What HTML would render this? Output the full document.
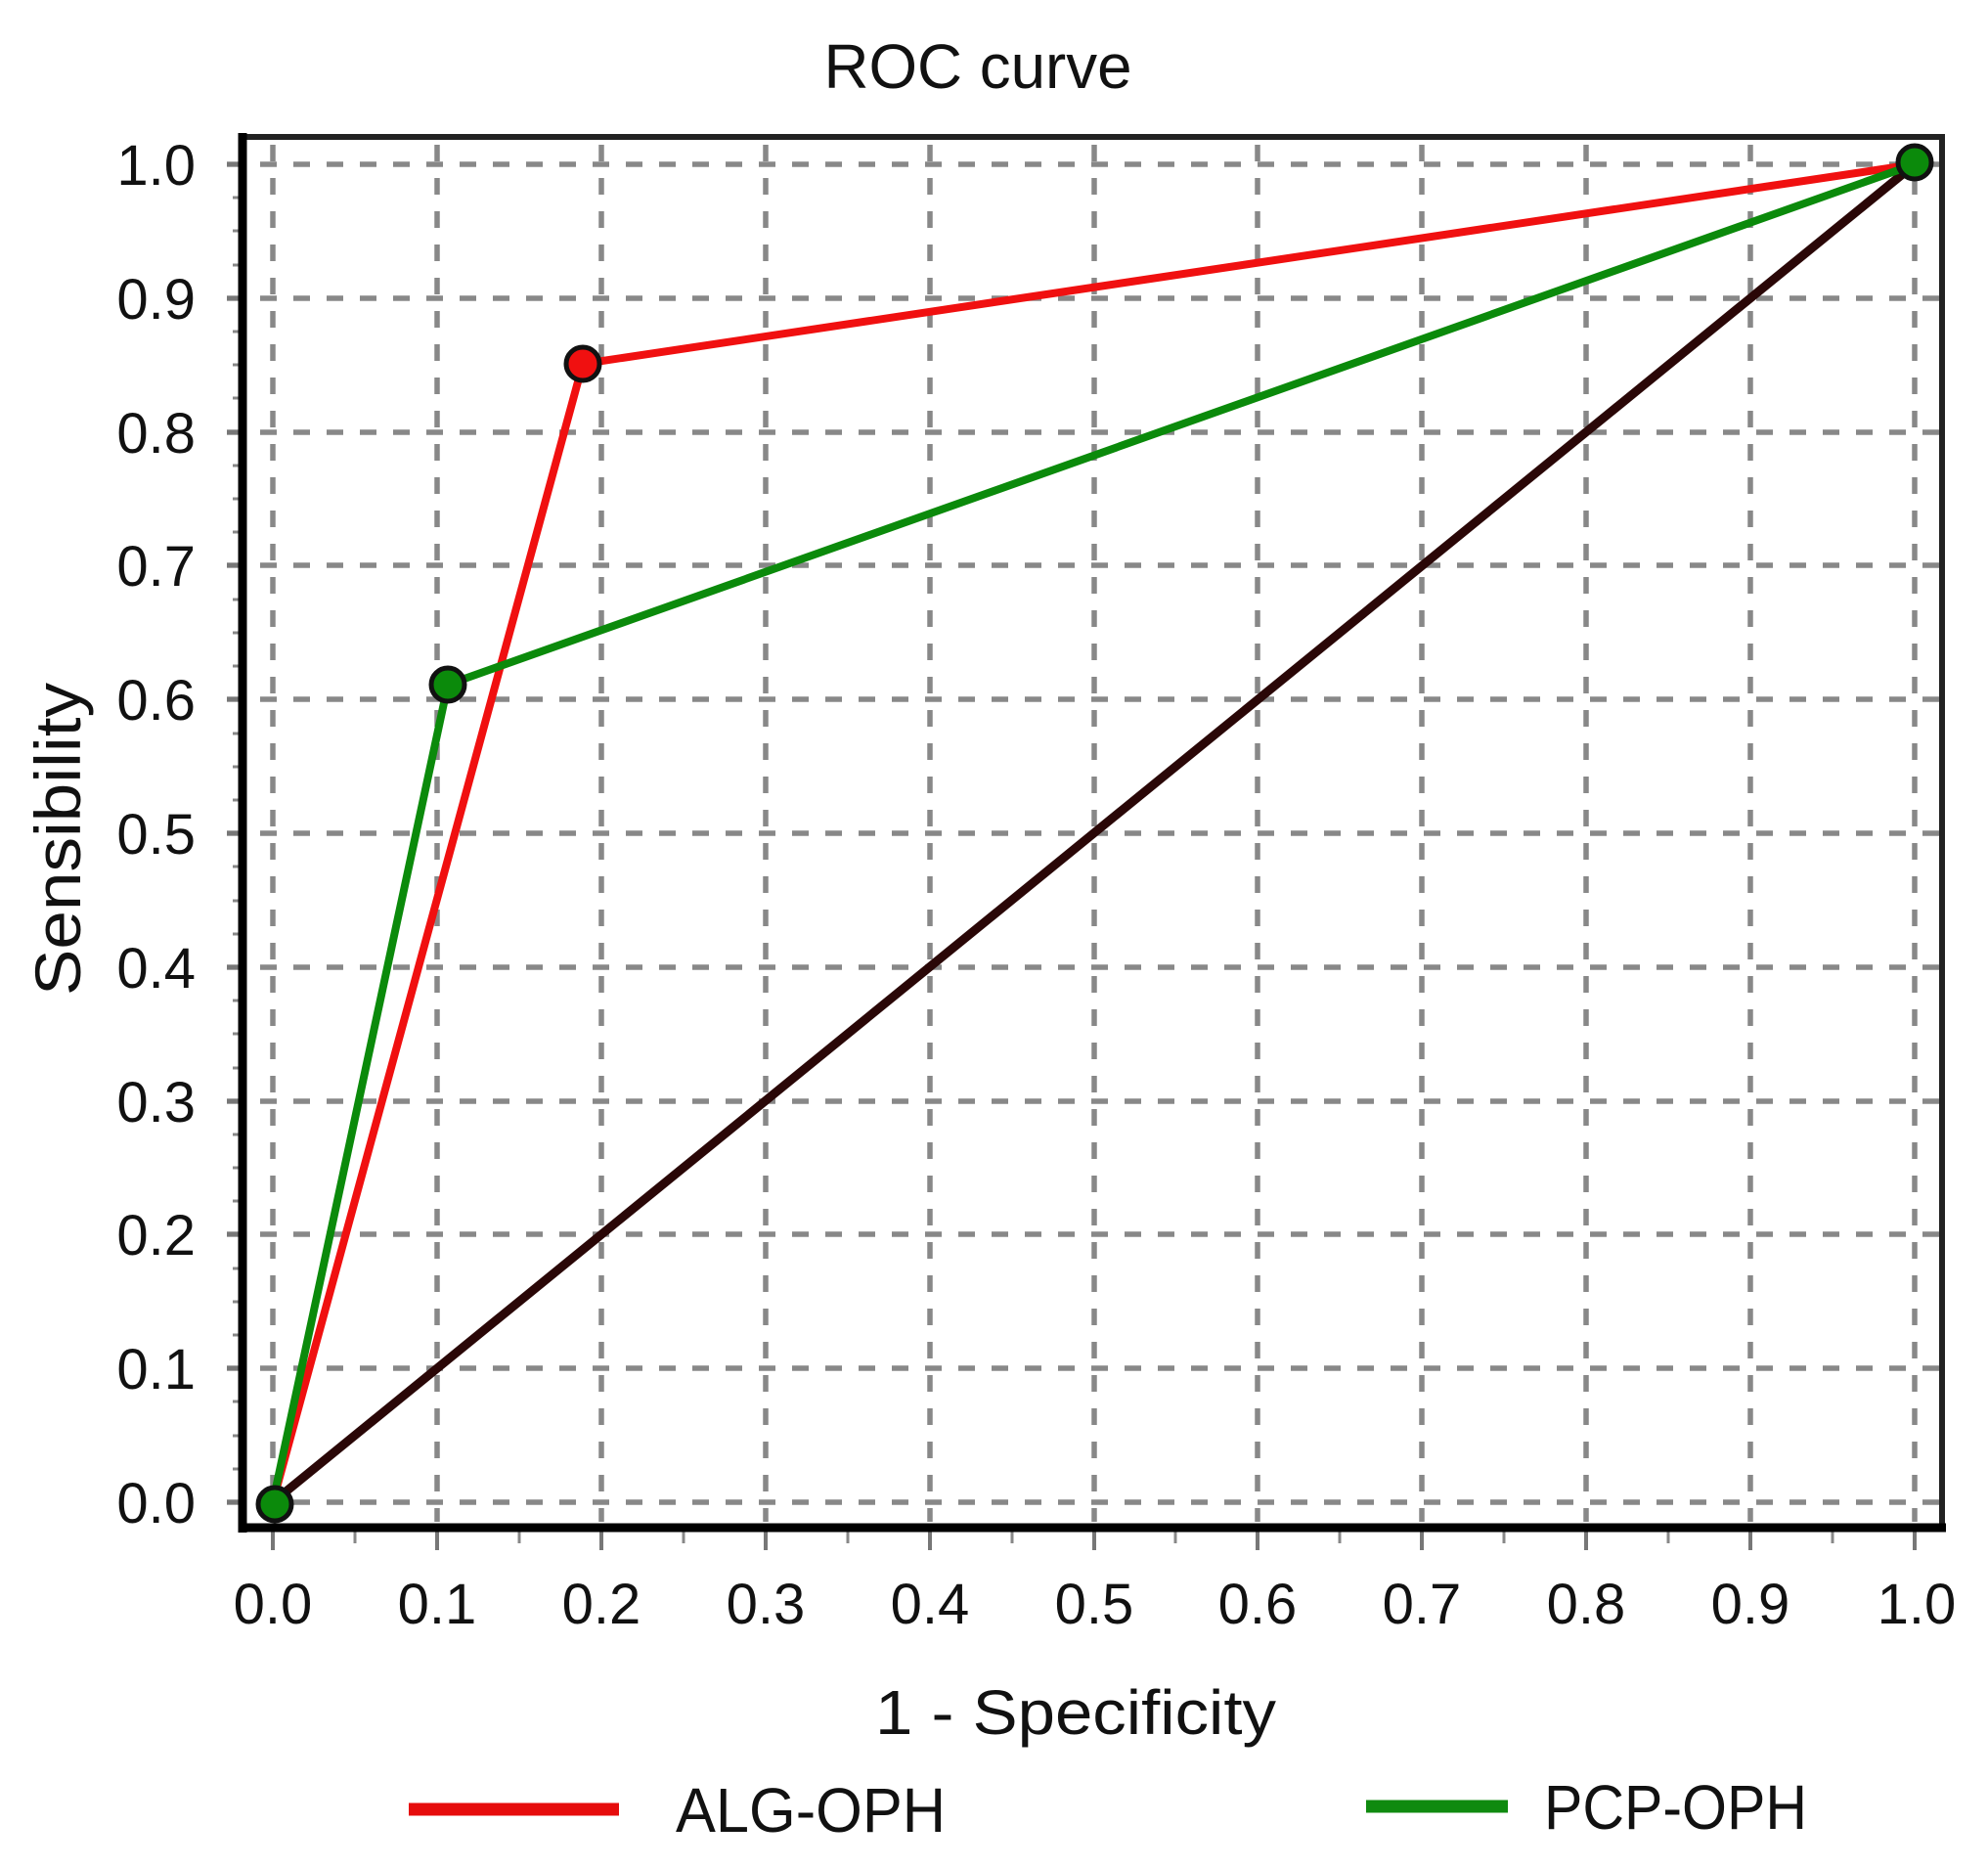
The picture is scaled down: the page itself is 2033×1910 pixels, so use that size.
<!DOCTYPE html>
<html>
<head>
<meta charset="utf-8">
<style>
html,body{margin:0;padding:0;background:#fff;}
svg{display:block;}
text{font-family:"Liberation Sans",Arial,sans-serif;fill:#111;}
</style>
</head>
<body>
<svg width="2033" height="1910" viewBox="0 0 2033 1910" xmlns="http://www.w3.org/2000/svg">
<rect width="2033" height="1910" fill="#fff"/>

<!-- Title -->
<text x="1000" y="90" font-size="64" text-anchor="middle" textLength="315" lengthAdjust="spacingAndGlyphs">ROC curve</text>

<!-- Grid: vertical -->
<g stroke="#888" stroke-width="5.5" stroke-dasharray="17 17" fill="none">
  <line x1="279" y1="148" x2="279" y2="1556"/>
  <line x1="447" y1="148" x2="447" y2="1556"/>
  <line x1="615" y1="148" x2="615" y2="1556"/>
  <line x1="783" y1="148" x2="783" y2="1556"/>
  <line x1="951" y1="148" x2="951" y2="1556"/>
  <line x1="1119" y1="148" x2="1119" y2="1556"/>
  <line x1="1286" y1="148" x2="1286" y2="1556"/>
  <line x1="1454" y1="148" x2="1454" y2="1556"/>
  <line x1="1622" y1="148" x2="1622" y2="1556"/>
  <line x1="1790" y1="148" x2="1790" y2="1556"/>
  <line x1="1958" y1="148" x2="1958" y2="1556"/>
</g>
<!-- Grid: horizontal -->
<g stroke="#888" stroke-width="5.5" stroke-dasharray="17 17" fill="none">
  <line x1="232" y1="1536" x2="1983" y2="1536"/>
  <line x1="232" y1="1399" x2="1983" y2="1399"/>
  <line x1="232" y1="1262" x2="1983" y2="1262"/>
  <line x1="232" y1="1126" x2="1983" y2="1126"/>
  <line x1="232" y1="989" x2="1983" y2="989"/>
  <line x1="232" y1="852" x2="1983" y2="852"/>
  <line x1="232" y1="715" x2="1983" y2="715"/>
  <line x1="232" y1="578" x2="1983" y2="578"/>
  <line x1="232" y1="442" x2="1983" y2="442"/>
  <line x1="232" y1="305" x2="1983" y2="305"/>
  <line x1="232" y1="168" x2="1983" y2="168"/>
</g>

<!-- Major ticks left of y axis -->
<g stroke="#777" stroke-width="4">
  <line x1="232" y1="1536" x2="246" y2="1536"/>
  <line x1="232" y1="1399" x2="246" y2="1399"/>
  <line x1="232" y1="1262" x2="246" y2="1262"/>
  <line x1="232" y1="1126" x2="246" y2="1126"/>
  <line x1="232" y1="989" x2="246" y2="989"/>
  <line x1="232" y1="852" x2="246" y2="852"/>
  <line x1="232" y1="715" x2="246" y2="715"/>
  <line x1="232" y1="578" x2="246" y2="578"/>
  <line x1="232" y1="442" x2="246" y2="442"/>
  <line x1="232" y1="305" x2="246" y2="305"/>
  <line x1="232" y1="168" x2="246" y2="168"/>
</g>
<!-- Minor ticks y axis (every 0.025) -->
<g stroke="#888" stroke-width="3">
  <line x1="238" y1="1502" x2="246" y2="1502"/><line x1="238" y1="1468" x2="246" y2="1468"/><line x1="238" y1="1433" x2="246" y2="1433"/>
  <line x1="238" y1="1365" x2="246" y2="1365"/><line x1="238" y1="1331" x2="246" y2="1331"/><line x1="238" y1="1297" x2="246" y2="1297"/>
  <line x1="238" y1="1228" x2="246" y2="1228"/><line x1="238" y1="1194" x2="246" y2="1194"/><line x1="238" y1="1160" x2="246" y2="1160"/>
  <line x1="238" y1="1092" x2="246" y2="1092"/><line x1="238" y1="1057" x2="246" y2="1057"/><line x1="238" y1="1023" x2="246" y2="1023"/>
  <line x1="238" y1="955" x2="246" y2="955"/><line x1="238" y1="921" x2="246" y2="921"/><line x1="238" y1="886" x2="246" y2="886"/>
  <line x1="238" y1="818" x2="246" y2="818"/><line x1="238" y1="784" x2="246" y2="784"/><line x1="238" y1="750" x2="246" y2="750"/>
  <line x1="238" y1="681" x2="246" y2="681"/><line x1="238" y1="647" x2="246" y2="647"/><line x1="238" y1="613" x2="246" y2="613"/>
  <line x1="238" y1="544" x2="246" y2="544"/><line x1="238" y1="510" x2="246" y2="510"/><line x1="238" y1="476" x2="246" y2="476"/>
  <line x1="238" y1="407" x2="246" y2="407"/><line x1="238" y1="373" x2="246" y2="373"/><line x1="238" y1="339" x2="246" y2="339"/>
  <line x1="238" y1="271" x2="246" y2="271"/><line x1="238" y1="236" x2="246" y2="236"/><line x1="238" y1="202" x2="246" y2="202"/>
</g>
<!-- x axis ticks below -->
<g stroke="#777" stroke-width="4">
  <line x1="279" y1="1566" x2="279" y2="1585"/>
  <line x1="447" y1="1566" x2="447" y2="1585"/>
  <line x1="615" y1="1566" x2="615" y2="1585"/>
  <line x1="783" y1="1566" x2="783" y2="1585"/>
  <line x1="951" y1="1566" x2="951" y2="1585"/>
  <line x1="1119" y1="1566" x2="1119" y2="1585"/>
  <line x1="1286" y1="1566" x2="1286" y2="1585"/>
  <line x1="1454" y1="1566" x2="1454" y2="1585"/>
  <line x1="1622" y1="1566" x2="1622" y2="1585"/>
  <line x1="1790" y1="1566" x2="1790" y2="1585"/>
  <line x1="1958" y1="1566" x2="1958" y2="1585"/>
</g>
<g stroke="#888" stroke-width="3">
  <line x1="363" y1="1566" x2="363" y2="1578"/>
  <line x1="531" y1="1566" x2="531" y2="1578"/>
  <line x1="699" y1="1566" x2="699" y2="1578"/>
  <line x1="867" y1="1566" x2="867" y2="1578"/>
  <line x1="1035" y1="1566" x2="1035" y2="1578"/>
  <line x1="1202" y1="1566" x2="1202" y2="1578"/>
  <line x1="1370" y1="1566" x2="1370" y2="1578"/>
  <line x1="1538" y1="1566" x2="1538" y2="1578"/>
  <line x1="1706" y1="1566" x2="1706" y2="1578"/>
  <line x1="1874" y1="1566" x2="1874" y2="1578"/>
</g>

<!-- Frame -->
<line x1="244" y1="140" x2="1989" y2="140" stroke="#222" stroke-width="6"/>
<line x1="1986" y1="137" x2="1986" y2="1566" stroke="#222" stroke-width="6"/>
<line x1="248" y1="136" x2="248" y2="1567" stroke="#000" stroke-width="9"/>
<line x1="244" y1="1562" x2="1990" y2="1562" stroke="#000" stroke-width="9"/>

<!-- Diagonal -->
<line x1="279" y1="1536" x2="1958" y2="168" stroke="#2a0707" stroke-width="9"/>
<!-- Red series -->
<polyline points="279,1536 596,372 1958,168" fill="none" stroke="#f01010" stroke-width="8" stroke-linejoin="round"/>
<!-- Green series -->
<polyline points="279,1536 458,700 1958,168" fill="none" stroke="#0b8a0b" stroke-width="8" stroke-linejoin="round"/>

<!-- Markers -->
<circle cx="596" cy="372" r="17" fill="#f01010" stroke="#111" stroke-width="5"/>
<circle cx="458" cy="700" r="17" fill="#0b8a0b" stroke="#111" stroke-width="5"/>
<circle cx="281" cy="1538" r="17" fill="#0b8a0b" stroke="#111" stroke-width="5"/>
<circle cx="1958" cy="166" r="17" fill="#0b8a0b" stroke="#111" stroke-width="5"/>

<!-- Y tick labels -->
<g font-size="58" text-anchor="end">
  <text x="200" y="1557">0.0</text>
  <text x="200" y="1420">0.1</text>
  <text x="200" y="1283">0.2</text>
  <text x="200" y="1147">0.3</text>
  <text x="200" y="1010">0.4</text>
  <text x="200" y="873">0.5</text>
  <text x="200" y="736">0.6</text>
  <text x="200" y="599">0.7</text>
  <text x="200" y="463">0.8</text>
  <text x="200" y="326">0.9</text>
  <text x="200" y="189">1.0</text>
</g>
<!-- X tick labels -->
<g font-size="58" text-anchor="middle">
  <text x="279" y="1660">0.0</text>
  <text x="447" y="1660">0.1</text>
  <text x="615" y="1660">0.2</text>
  <text x="783" y="1660">0.3</text>
  <text x="951" y="1660">0.4</text>
  <text x="1119" y="1660">0.5</text>
  <text x="1286" y="1660">0.6</text>
  <text x="1454" y="1660">0.7</text>
  <text x="1622" y="1660">0.8</text>
  <text x="1790" y="1660">0.9</text>
  <text x="1960" y="1660">1.0</text>
</g>

<!-- Axis labels -->
<text x="895" y="1773" font-size="64" textLength="410" lengthAdjust="spacingAndGlyphs">1 - Specificity</text>
<text transform="translate(82,1018) rotate(-90)" x="0" y="0" font-size="66" textLength="320" lengthAdjust="spacingAndGlyphs">Sensibility</text>

<!-- Legend -->
<line x1="418" y1="1850" x2="633" y2="1850" stroke="#e60c0c" stroke-width="13"/>
<text x="691" y="1873" font-size="64" textLength="276" lengthAdjust="spacingAndGlyphs">ALG-OPH</text>
<line x1="1397" y1="1847" x2="1542" y2="1847" stroke="#0f8a0f" stroke-width="13"/>
<text x="1579" y="1870" font-size="64" textLength="269" lengthAdjust="spacingAndGlyphs">PCP-OPH</text>
</svg>
</body>
</html>
